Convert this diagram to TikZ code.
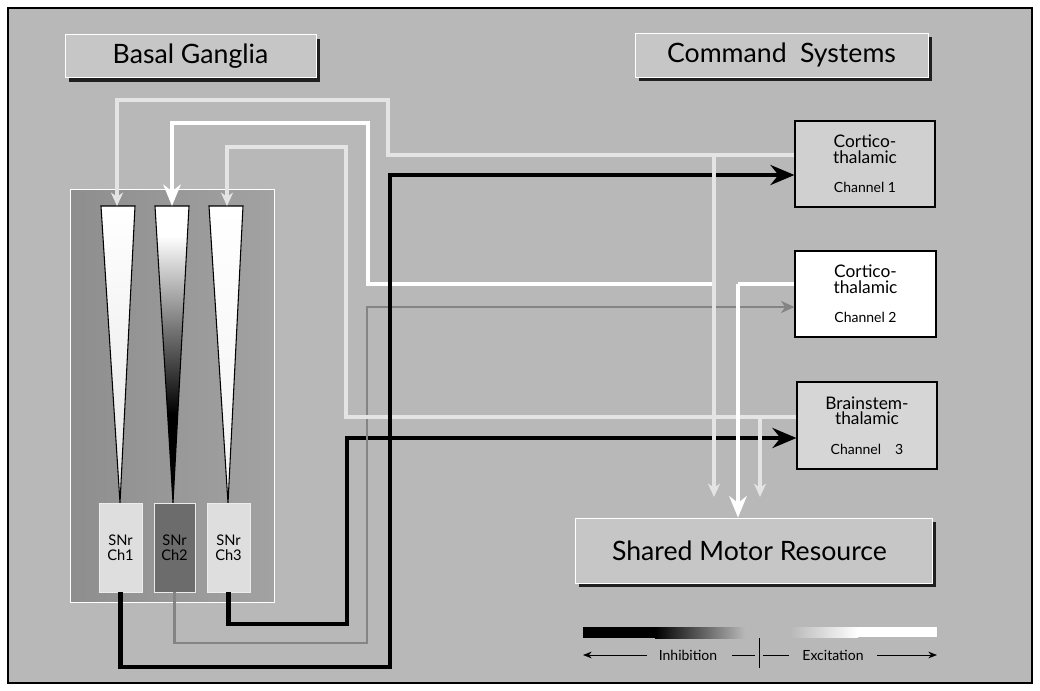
\documentclass[tikz,border=0pt]{standalone}
\usepackage{fontspec}
\setmainfont{Lato}
\usetikzlibrary{arrows.meta,shadows,calc}
\definecolor{bgc}{RGB}{184,184,184}
\definecolor{labc}{RGB}{198,198,198}
\definecolor{innerA}{RGB}{142,142,142}
\definecolor{innerB}{RGB}{162,162,162}
\definecolor{faintc}{RGB}{228,228,228}
\definecolor{midg}{RGB}{132,132,132}
\definecolor{chA}{RGB}{208,208,208}
\definecolor{chC}{RGB}{214,214,214}
\definecolor{snrA}{RGB}{222,222,222}
\definecolor{snrB}{RGB}{108,108,108}
\pgfdeclareverticalshading{wedgetwo}{100bp}{color(0bp)=(black); color(40bp)=(black); color(54bp)=(black!55); color(70bp)=(white); color(100bp)=(white)}
\begin{document}
\begin{tikzpicture}[x=0.75pt,y=-0.75pt,
  lab/.style={draw=white,line width=0.6pt,fill=labc,inner sep=0pt,
     font=\fontsize{20}{22}\selectfont,
     drop shadow={shadow xshift=3.2pt,shadow yshift=-3.2pt,fill=black!88,opacity=1}},
  chan/.style={draw=black,line width=0.8pt,inner sep=0pt,align=center,
     font=\fontsize{13}{11.5}\selectfont,minimum width=105pt,minimum height=64.5pt},
  snr/.style={draw=white!85!gray,line width=0.5pt,inner sep=0pt,align=center,
     font=\fontsize{11}{11.5}\selectfont,minimum height=66.75pt},
  inhl/.style={line width=3.4pt,black,line join=miter},
  excl/.style={line width=3.6pt,white,line join=miter},
  fntl/.style={line width=2.8pt,faintc,line join=miter},
  grayl/.style={line width=2.2pt,midg,line join=miter},
  bigtip/.style={-{Stealth[length=18pt,width=15pt,inset=6pt]}},
  whtip/.style={-{Stealth[length=16pt,width=13pt,inset=5pt]}},
  smtip/.style={-{Stealth[length=10pt,width=9pt,inset=3pt]}},
  leg/.style={font=\fontsize{10.5}{12}\selectfont,inner sep=0pt},
  legline/.style={line width=0.7pt,black},
  legtip/.style={-{Stealth[length=6.5pt,width=5pt,inset=2pt]}}
]
\useasboundingbox (0,0) rectangle (1040,690);
\fill[white] (0,0) rectangle (1040,690);
\draw[fill=bgc,line width=1pt] (8,8) rectangle (1032,683);

% titles
\node[lab,minimum width=188.25pt,minimum height=32.25pt] (bgl) at (190.5,56) {Basal Ganglia};
\node[lab,minimum width=219.75pt,minimum height=33pt] (csl) at (781.5,55) {Command\enspace Systems};
\node[lab,minimum width=267.75pt,minimum height=48.75pt] (motor) at (753.5,550.5) {Shared Motor Resource\hspace*{6pt}};

% basal ganglia region
\shade[left color=innerA,right color=innerB] (70,189) rectangle (274,602);
\draw[white,line width=0.6pt] (70,189) rectangle (274,602);

% striatal wedges
\shadedraw[top color=white,bottom color=black!10,draw=black,line width=0.8pt]
  (101,206) -- (135,206) -- (120,503) -- cycle;
\shadedraw[shading=wedgetwo,draw=black,line width=0.8pt]
  (155,206) -- (189,206) -- (173,503) -- cycle;
\shadedraw[top color=white,bottom color=black!5,draw=black,line width=0.8pt]
  (209,206) -- (243,206) -- (228,503) -- cycle;
\coordinate (t1) at (117,206);
\coordinate (t2) at (172,206);
\coordinate (t3) at (227,206);

% SNr boxes
\node[snr,fill=snrA,minimum width=32.25pt] (s1) at (120.5,547.5) {SNr\\Ch1};
\node[snr,fill=snrB,minimum width=30.75pt] (s2) at (174.5,547.5) {SNr\\Ch2};
\node[snr,fill=snrA,minimum width=32.25pt] (s3) at (228.5,547.5) {SNr\\Ch3};

% channel boxes
\node[chan,fill=chA] (ch1) at (865,164) {Cortico-\\thalamic\\[10.5pt]{\fontsize{10.5}{12}\selectfont Channel 1}};
\node[chan,fill=white,minimum width=105.75pt] (ch2) at (865.5,294) {Cortico-\\thalamic\\[10.5pt]{\fontsize{10.5}{12}\selectfont Channel 2}};
\node[chan,fill=chC,minimum height=65.25pt] (ch3) at (867,425.5) {Brainstem-\\thalamic\\[10.5pt]{\fontsize{10.5}{12}\selectfont Channel\quad 3}};

% junctions
\coordinate (j1) at (714,155);
\coordinate (j2) at (738,284);
\coordinate (g2) at (716,284);
\coordinate (j3) at (760,417);
\coordinate (d1) at (714,497);
\coordinate (d3) at (760,497);

% inhibitory outputs (ch3, ch2)
\draw[inhl,bigtip] (s3.south) |- (347,624) |- (ch3.west |- 0,438);
\draw[grayl,smtip] (s2.south) |- (367,643) |- (ch2.west |- 0,307);

% excitatory feedback to striatum
\draw[fntl,smtip] (ch1.west |- 0,155) -| (388,100) -| (t1);
\draw[excl] (ch2.west |- 0,284) -- (j2);
\draw[excl,whtip] (g2) -| (368,123) -| (t2);
\draw[fntl,smtip] (ch3.west |- 0,417) -| (346,147) -| (t3);

% inhibitory output ch1
\draw[inhl,bigtip] (s1.south) |- (390,667) |- (ch1.west |- 0,175);

% drops to motor resource
\draw[fntl,smtip] (j1) -- (d1);
\draw[excl,whtip] (j2) -- (j2 |- motor.north);
\draw[fntl,smtip] (j3) -- (d3);

% legend
\fill[black] (583,627) rectangle (655,638);
\shade[left color=black,right color=bgc] (655,627) rectangle (745,638);
\shade[left color=bgc,right color=white] (790,627) rectangle (858,637);
\fill[white] (858,627) rectangle (937,637);
\node[leg] (inh) at (688,655) {Inhibition};
\node[leg] (exc) at (833,655) {Excitation};
\coordinate (la) at (583,655);
\coordinate (ra) at (937,655);
\coordinate (tk1) at (759,638);
\coordinate (tk2) at (759,668);
\coordinate (m1) at (755,655);
\coordinate (m2) at (763,655);
\draw[legline,legtip] ([xshift=-9pt]inh.west) -- (la);
\draw[legline] ([xshift=11pt]inh.east) -- (m1);
\draw[legline] (tk1) -- (tk2);
\draw[legline] (m2) -- ([xshift=-10pt]exc.west);
\draw[legline,legtip] ([xshift=10pt]exc.east) -- (ra);
\end{tikzpicture}
\end{document}
